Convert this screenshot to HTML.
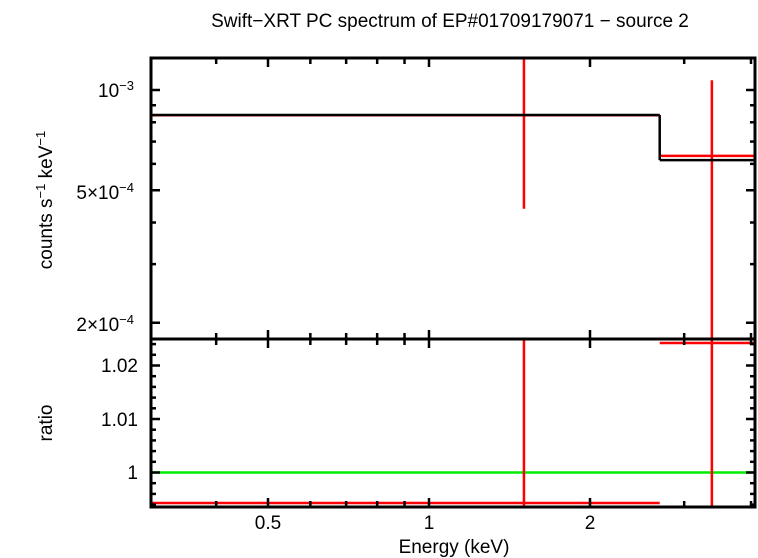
<!DOCTYPE html>
<html><head><meta charset="utf-8"><style>
html,body{margin:0;padding:0;background:#fff;}
svg{display:block;font-family:"Liberation Sans",sans-serif;}
</style></head><body>
<svg id="chart" width="758" height="558" viewBox="0 0 758 558">
<text x="450" y="27" font-size="19" text-anchor="middle">Swift−XRT PC spectrum of EP#01709179071 − source 2</text>
<text x="454" y="553" font-size="19" text-anchor="middle">Energy (keV)</text>
<text transform="translate(52,200) rotate(-90)" font-size="19" text-anchor="middle">counts s<tspan font-size="13" dy="-7">−1</tspan><tspan dy="7"> keV</tspan><tspan font-size="13" dy="-7">−1</tspan></text>
<text transform="translate(52,423) rotate(-90)" font-size="19" text-anchor="middle">ratio</text>
<g id="g"></g>
</svg>
<script>
// data
const binLo = [0.30, 2.70];
const binHi = [2.70, 4.10];
const binCenter = [1.505, 3.38];
const modelVals = [8.41e-4, 6.16e-4];
const dataVals = [8.40e-4, 6.34e-4];
const dataErrLo = [4.4e-4, 1.0e-4];
const dataErrHi = [1.4e-3, 1.07e-3];
const ratioVals = [0.9943, 1.0242];
const ratioErrLo = [0.98, 0.98];
const ratioErrHi = [1.04, 1.04];
const xTickVals = [0.3,0.4,0.5,0.6,0.7,0.8,0.9,1,2,3,4];
const xTickLabels = ["0.5","1","2"];
const yTopTicks = [2e-4,3e-4,4e-4,5e-4,6e-4,7e-4,8e-4,9e-4,1e-3];
const yBotTicks = [0.994,0.996,0.998,1,1.002,1.004,1.006,1.008,1.01,1.012,1.014,1.016,1.018,1.02,1.022,1.024];

const L=151,R=755,T=58,M=339,B=507;
const NS="http://www.w3.org/2000/svg";
const g=document.getElementById('g');
function X(e){return 429+Math.log2(e)*161;}
function YT(v){return 90-Math.log10(v/1e-3)*333;}
function YB(v){return 472.5-(v-1)*5350;}
function clipX(x){return Math.max(L,Math.min(R,x));}
function line(x1,y1,x2,y2,c,w,name){
  const l=document.createElementNS(NS,'line');
  l.setAttribute('x1',x1);l.setAttribute('y1',y1);l.setAttribute('x2',x2);l.setAttribute('y2',y2);
  l.setAttribute('stroke',c);l.setAttribute('stroke-width',w);
  
  
  g.appendChild(l);return l;
}
function text(x,y,s,name,anchor){
  const t=document.createElementNS(NS,'text');
  t.setAttribute('x',x);t.setAttribute('y',y);t.setAttribute('font-size','19');
  t.setAttribute('text-anchor',anchor||'middle');
  t.innerHTML=s;
  
  
  g.appendChild(t);return t;
}
line(L,YB(1),R,YB(1),'#00ee00',2.5,'unity-line');
// data points
for(let i=0;i<binLo.length;i++){
  const x=X(binCenter[i]);
  const y=YT(dataVals[i]);
  line(clipX(X(binLo[i])),y,clipX(X(binHi[i])),y,'red',2.5,'data-xerr');
  line(x,Math.max(T,YT(dataErrHi[i])),x,Math.min(M,YT(dataErrLo[i])),'red',2.5,'data-yerr');
  const yr=YB(ratioVals[i]);
  line(clipX(X(binLo[i])),yr,clipX(X(binHi[i])),yr,'red',2.5,'ratio-xerr');
  line(x,Math.max(M,YB(ratioErrHi[i])),x,Math.min(B,YB(ratioErrLo[i])),'red',2.5,'ratio-yerr');
}
// model
for(let i=0;i<binLo.length;i++){
  const y=YT(modelVals[i]);
  line(clipX(X(binLo[i])),y,clipX(X(binHi[i])),y,'#000',2.5,'model-step');
  if(i>0){line(X(binLo[i]),YT(modelVals[i-1]),X(binLo[i]),y,'#000',2.5,'model-step-riser');}
}
// x ticks
xTickVals.forEach(v=>{
  const x=X(v);if(x<L-1||x>R)return;
  const major=(v===0.5||v===1||v===2);
  const len=major?9:6;
  [T,M,B].forEach(yy=>{
    if(yy!==T)line(x,yy,x,yy-len,'#000',2.5,'x-tick');
    if(yy!==B)line(x,yy,x,yy+len,'#000',2.5,'x-tick');
  });
});
[0.5,1,2].forEach((v,i)=>text(X(v),529,xTickLabels[i],'x-tick-label'));
yTopTicks.forEach(v=>{
  const y=YT(v);const major=(v===1e-3||v===5e-4||v===2e-4);const len=major?9:5;
  line(L,y,L+len,y,'#000',2.5,'y-tick');line(R,y,R-len,y,'#000',2.5,'y-tick');
});
text(134,97,'10<tspan font-size="13" dy="-7">−3</tspan>','y-tick-label','end');
text(134,199,'5×10<tspan font-size="13" dy="-7">−4</tspan>','y-tick-label','end');
text(134,331,'2×10<tspan font-size="13" dy="-7">−4</tspan>','y-tick-label','end');
yBotTicks.forEach(v=>{
  const y=YB(v);if(y<M||y>B)return;
  const major=Math.abs((v*100)-Math.round(v*100))<1e-6;const len=major?9:5;
  line(L,y,L+len,y,'#000',2.5,'ratio-tick');line(R,y,R-len,y,'#000',2.5,'ratio-tick');
});
text(138,372,'1.02','ratio-tick-label','end');
text(138,426,'1.01','ratio-tick-label','end');
text(138,479,'1','ratio-tick-label','end');
const f1=document.createElementNS(NS,'rect');
f1.setAttribute('x',L);f1.setAttribute('y',T);f1.setAttribute('width',R-L);f1.setAttribute('height',B-T);
f1.setAttribute('fill','none');f1.setAttribute('stroke','#000');f1.setAttribute('stroke-width','3');


g.appendChild(f1);
line(L,M,R,M,'#000',3,'panel-divider');
</script>
</body></html>
